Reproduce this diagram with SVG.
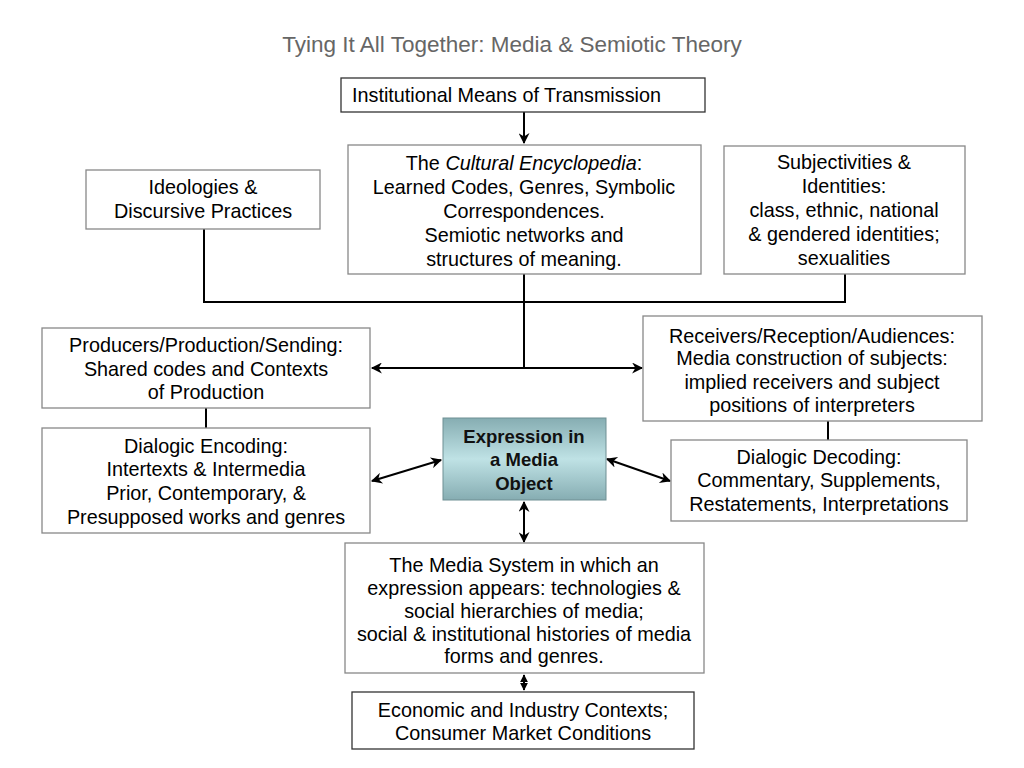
<svg xmlns="http://www.w3.org/2000/svg" width="1024" height="768" viewBox="0 0 1024 768">
<defs>
<linearGradient id="teal" x1="0" y1="0" x2="0" y2="1">
<stop offset="0" stop-color="#86adb2"/>
<stop offset="0.5" stop-color="#bfe2e5"/>
<stop offset="1" stop-color="#86adb2"/>
</linearGradient>
<marker id="ah" viewBox="0 0 10 10" refX="9" refY="5" markerWidth="8" markerHeight="9" orient="auto-start-reverse" markerUnits="userSpaceOnUse">
<path d="M0,0 L10,5 L0,10 z" fill="#000"/>
</marker>
<marker id="ah2" viewBox="0 0 10 10" refX="9" refY="5" markerWidth="14" markerHeight="11" orient="auto-start-reverse" markerUnits="userSpaceOnUse">
<path d="M0,0 L10,5 L0,10 L3,5 z" fill="#000"/>
</marker>
</defs>
<style>
.box{fill:#fff;stroke:#888;stroke-width:1.3}
.dbox{fill:#fff;stroke:#333;stroke-width:1.3}
.t{font-family:"Liberation Sans",Arial,sans-serif;font-size:19.8px;fill:#000;text-anchor:middle}
.c{fill:none;stroke:#000;stroke-width:2}
.b{font-family:"Liberation Sans",Arial,sans-serif;font-weight:bold;font-size:18.5px;fill:#111;text-anchor:middle}
</style>
<rect width="1024" height="768" fill="#fff"/>
<text x="512" y="52" style="font-family:'Liberation Sans',Arial,sans-serif;font-size:22.5px;fill:#666;text-anchor:middle">Tying It All Together: Media &amp; Semiotic Theory</text>

<g id="connectors">
<line class="c" x1="524" y1="112" x2="524" y2="143" marker-end="url(#ah2)"/>
<polyline class="c" points="204,229 204,302 845,302 845,274"/>
<line class="c" x1="524" y1="274" x2="524" y2="368"/>
<line class="c" x1="524" y1="368" x2="372" y2="368" marker-end="url(#ah2)"/>
<line class="c" x1="524" y1="368" x2="642" y2="368" marker-end="url(#ah2)"/>
<line class="c" x1="206" y1="408" x2="206" y2="428"/>
<line class="c" x1="828" y1="421" x2="828" y2="440"/>
<line class="c" x1="372" y1="481" x2="441" y2="460" marker-start="url(#ah2)" marker-end="url(#ah2)"/>
<line class="c" x1="607" y1="459" x2="670" y2="481" marker-start="url(#ah2)" marker-end="url(#ah2)"/>
<line class="c" x1="524" y1="502" x2="524" y2="542" marker-start="url(#ah2)" marker-end="url(#ah2)"/>
<line class="c" x1="524" y1="675" x2="524" y2="690" marker-start="url(#ah)" marker-end="url(#ah)"/>
</g>

<g id="institutional">
<rect class="dbox" x="341" y="78" width="364" height="34"/>
<text class="t" x="352" y="102" style="text-anchor:start">Institutional Means of Transmission</text>
</g>

<g id="encyclopedia">
<rect class="box" x="348" y="145" width="353" height="129"/>
<text class="t" x="524" y="170">The <tspan font-style="italic">Cultural Encyclopedia</tspan>:</text>
<text class="t" x="524" y="194">Learned Codes, Genres, Symbolic</text>
<text class="t" x="524" y="218">Correspondences.</text>
<text class="t" x="524" y="242">Semiotic networks and</text>
<text class="t" x="524" y="266">structures of meaning.</text>
</g>

<g id="ideologies">
<rect class="box" x="86" y="170" width="234" height="59"/>
<text class="t" x="203" y="194">Ideologies &amp;</text>
<text class="t" x="203" y="218">Discursive Practices</text>
</g>

<g id="subjectivities">
<rect class="box" x="724" y="146" width="241" height="128"/>
<text class="t" x="844" y="169">Subjectivities &amp;</text>
<text class="t" x="844" y="193">Identities:</text>
<text class="t" x="844" y="217">class, ethnic, national</text>
<text class="t" x="844" y="241">&amp; gendered identities;</text>
<text class="t" x="844" y="265">sexualities</text>
</g>

<g id="producers">
<rect class="box" x="42" y="328" width="328" height="80"/>
<text class="t" x="206" y="352">Producers/Production/Sending:</text>
<text class="t" x="206" y="376">Shared codes and Contexts</text>
<text class="t" x="206" y="399">of Production</text>
</g>

<g id="encoding">
<rect class="box" x="42" y="428" width="328" height="105"/>
<text class="t" x="206" y="453">Dialogic Encoding:</text>
<text class="t" x="206" y="476">Intertexts &amp; Intermedia</text>
<text class="t" x="206" y="500">Prior, Contemporary, &amp;</text>
<text class="t" x="206" y="524">Presupposed works and genres</text>
</g>

<g id="receivers">
<rect class="box" x="643" y="316" width="339" height="105"/>
<text class="t" x="812" y="343">Receivers/Reception/Audiences:</text>
<text class="t" x="812" y="365">Media construction of subjects:</text>
<text class="t" x="812" y="389">implied receivers and subject</text>
<text class="t" x="812" y="412">positions of interpreters</text>
</g>

<g id="decoding">
<rect class="box" x="671" y="440" width="296" height="81"/>
<text class="t" x="819" y="464">Dialogic Decoding:</text>
<text class="t" x="819" y="487">Commentary, Supplements,</text>
<text class="t" x="819" y="511">Restatements, Interpretations</text>
</g>

<g id="expression">
<rect x="443" y="418" width="163" height="82" fill="url(#teal)" stroke="#6f8f93" stroke-width="1"/>
<text class="b" x="524" y="443">Expression in</text>
<text class="b" x="524" y="466">a Media</text>
<text class="b" x="524" y="490">Object</text>
</g>

<g id="mediasystem">
<rect class="box" x="345" y="543" width="359" height="130"/>
<text class="t" x="524" y="572">The Media System in which an</text>
<text class="t" x="524" y="595">expression appears: technologies &amp;</text>
<text class="t" x="524" y="618">social hierarchies of media;</text>
<text class="t" x="524" y="641">social &amp; institutional histories of media</text>
<text class="t" x="524" y="663">forms and genres.</text>
</g>

<g id="economic">
<rect class="dbox" x="352" y="692" width="342" height="57"/>
<text class="t" x="523" y="717">Economic and Industry Contexts;</text>
<text class="t" x="523" y="740">Consumer Market Conditions</text>
</g>
</svg>
